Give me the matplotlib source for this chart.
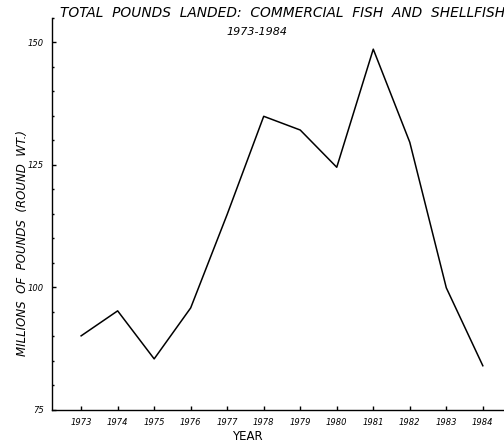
import matplotlib

matplotlib.use("Agg")
import matplotlib.pyplot as plt
from matplotlib.ticker import MultipleLocator

# values (millions of pounds, round weight)
years = [1973, 1974, 1975, 1976, 1977, 1978, 1979, 1980, 1981, 1982, 1983, 1984]
pounds = [90.1, 95.2, 85.4, 95.8, 114.9, 134.9, 132.1, 124.5, 148.6, 129.6, 99.9, 84.0]
y_ticks = [75, 100, 125, 150]
y_tick_labels = ["75", "100", "125", "150"]

fig = plt.figure(figsize=(5.04, 4.45), dpi=100)
ax = fig.add_axes([0.103, 0.079, 0.897, 0.881])

ax.plot(years, pounds, color="black", linewidth=1.1)

ax.set_xlim(1972.2, 1984.58)
ax.set_ylim(75, 155)

ax.spines["top"].set_visible(False)
ax.spines["right"].set_visible(False)
ax.spines["left"].set_linewidth(1.0)
ax.spines["bottom"].set_linewidth(1.0)

ax.set_xticks(years)
ax.set_xticklabels([str(y) for y in years], fontsize=6, style="italic")
ax.set_yticks(y_ticks)
ax.set_yticklabels(y_tick_labels, fontsize=6, style="italic")
ax.yaxis.set_minor_locator(MultipleLocator(5))
ax.tick_params(axis="both", which="major", direction="in", length=3, width=1.0, pad=6)
ax.tick_params(axis="y", which="minor", direction="in", length=1.5, width=1.0)

fig.text(0.119, 0.971, "TOTAL  POUNDS  LANDED:  COMMERCIAL  FISH  AND  SHELLFISH",
         fontsize=9.9, style="italic", ha="left", va="center")
fig.text(0.51, 0.928, "1973-1984", fontsize=8, style="italic", ha="center", va="center")
fig.text(0.044, 0.454, "MILLIONS  OF  POUNDS  (ROUND  WT.)", fontsize=8.5,
         style="italic", rotation=90, ha="center", va="center")
fig.text(0.49, 0.018, "YEAR", fontsize=8.5, ha="center", va="center")

fig.savefig("out.png", dpi=100)
